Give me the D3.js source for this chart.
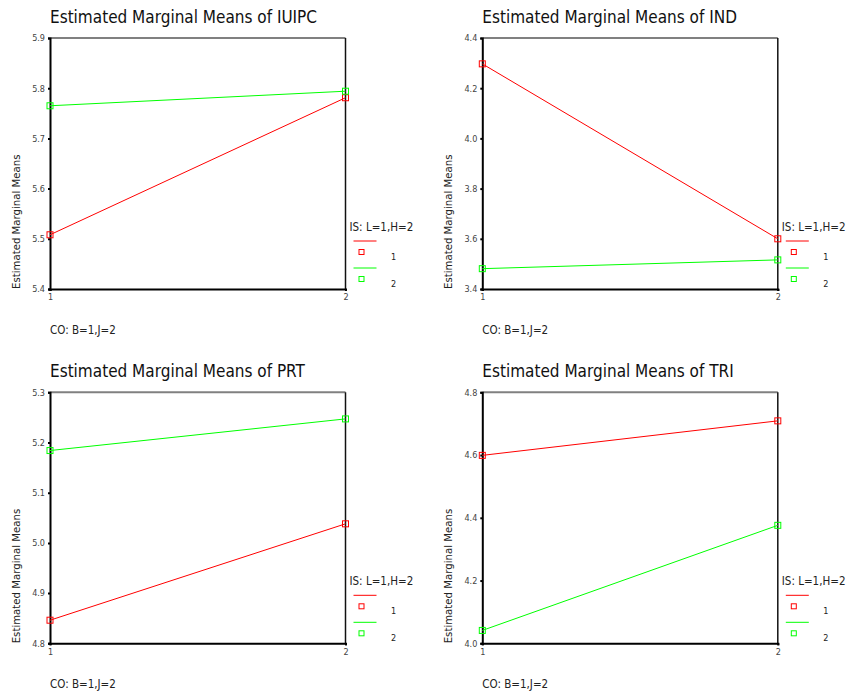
<!DOCTYPE html>
<html>
<head>
<meta charset="utf-8">
<script src="https://cdn.jsdelivr.net/npm/d3@7"></script>
<style>
  body { margin: 0; background: #fff; }
  svg { display: block; font-family: "DejaVu Sans Condensed", "DejaVu Sans", Verdana, sans-serif; }
</style>
</head>
<body>
<div id="okvir"></div>
<script>
// podaci
const naslovi = ["IUIPC", "IND", "PRT", "TRI"]
const razine = [1, 2]
const legendaNaslov = "IS: L=1,H=2"
const legendaOznake = ["1", "2"]
const xNaslov = "CO: B=1,J=2"
const yNaslov = "Estimated Marginal Means"

const iuipcNisko = [5.508, 5.781]
const iuipcVisoko = [5.765, 5.794]
const indNisko = [4.297, 3.600]
const indVisoko = [3.481, 3.516]
const prtNisko = [4.846, 5.038]
const prtVisoko = [5.184, 5.247]
const triNisko = [4.599, 4.709]
const triVisoko = [4.041, 4.376]

const iuipcTicks = [5.4, 5.5, 5.6, 5.7, 5.8, 5.9]
const indTicks = [3.4, 3.6, 3.8, 4.0, 4.2, 4.4]
const prtTicks = [4.8, 4.9, 5.0, 5.1, 5.2, 5.3]
const triTicks = [4.0, 4.2, 4.4, 4.6, 4.8]

const boje = ["#ff0000", "#00ff00"]

const paneli = [
  { naslov: naslovi[0], serije: [iuipcNisko, iuipcVisoko], ticks: iuipcTicks },
  { naslov: naslovi[1], serije: [indNisko, indVisoko], ticks: indTicks },
  { naslov: naslovi[2], serije: [prtNisko, prtVisoko], ticks: prtTicks },
  { naslov: naslovi[3], serije: [triNisko, triVisoko], ticks: triTicks },
]

// dimenzije
const sirina = 847
const visina = 691
const grSirina = 295.5
const grVisina = 251
const pomaci = [
  { x: 50, y: 38 },
  { x: 482.3, y: 38 },
  { x: 50, y: 392.3 },
  { x: 482.3, y: 392.3 },
]

const okvir = d3.select("#okvir")
  .append("svg")
    .attr("width", sirina)
    .attr("height", visina)

paneli.forEach((p, i) => crtajPanel(p, pomaci[i]))

function crtajPanel(panel, pomak) {
  const g = okvir.append("g")
      .attr("transform", `translate(${pomak.x},${pomak.y})`)

  const xSkala = d3.scalePoint()
    .domain(razine)
    .range([0, grSirina])

  const ySkala = d3.scaleLinear()
    .domain(d3.extent(panel.ticks))
    .range([grVisina, 0])

  // naslov
  g.append("text")
      .attr("x", 0)
      .attr("y", -15)
      .attr("font-size", 17)
      .attr("fill", "#111")
      .text("Estimated Marginal Means of " + panel.naslov)

  // okvir - gornja i desna strana
  g.append("line")
      .attr("x1", 0).attr("x2", grSirina)
      .attr("y1", 0).attr("y2", 0)
      .attr("stroke", "#808080")
      .attr("stroke-width", 2)
  g.append("line")
      .attr("x1", grSirina).attr("x2", grSirina)
      .attr("y1", 0).attr("y2", grVisina)
      .attr("stroke", "#111")
      .attr("stroke-width", 1.5)

  // y os
  const yOs = g.append("g")
    .call(d3.axisLeft(ySkala)
      .tickValues(panel.ticks)
      .tickFormat(d3.format(".1f"))
      .tickSize(2)
      .tickPadding(3))
  yOs.select(".domain").attr("stroke", "#000").attr("stroke-width", 2)
  yOs.selectAll(".tick line").attr("stroke", "#000").attr("stroke-width", 2)
  yOs.selectAll(".tick text")
      .attr("font-family", "DejaVu Sans Condensed, DejaVu Sans, sans-serif")
      .attr("font-size", 9)
      .attr("fill", "#444")

  // x os
  const xOs = g.append("g")
      .attr("transform", `translate(0,${grVisina})`)
    .call(d3.axisBottom(xSkala).tickSize(2).tickPadding(3))
  xOs.select(".domain").attr("stroke", "#000").attr("stroke-width", 2)
  xOs.selectAll(".tick line").attr("stroke", "#000").attr("stroke-width", 2)
  xOs.selectAll(".tick text")
      .attr("font-family", "DejaVu Sans Condensed, DejaVu Sans, sans-serif")
      .attr("font-size", 9)
      .attr("fill", "#444")

  // oznake osi
  g.append("text")
      .attr("transform", `translate(-30,${grVisina}) rotate(-90)`)
      .attr("font-size", 11.3)
      .attr("fill", "#222")
      .text(yNaslov)

  g.append("text")
      .attr("x", 0)
      .attr("y", grVisina + 45)
      .attr("font-size", 11.5)
      .attr("fill", "#222")
      .text(xNaslov)

  // linije i markeri
  const generatorLinije = d3.line()
    .x((d, j) => xSkala(razine[j]))
    .y(d => ySkala(d))

  panel.serije.forEach((serija, s) => {
    g.append("path")
        .attr("d", generatorLinije(serija))
        .attr("fill", "none")
        .attr("stroke", boje[s])
        .attr("stroke-width", 1)

    g.selectAll(null)
      .data(serija)
      .join("rect")
        .attr("x", (d, j) => xSkala(razine[j]) - 3)
        .attr("y", d => ySkala(d) - 3)
        .attr("width", 6)
        .attr("height", 6)
        .attr("fill", "none")
        .attr("stroke", boje[s])
        .attr("stroke-width", 1)
  })

  // legenda
  const legenda = g.append("g")
      .attr("transform", `translate(${grSirina + 4},${grVisina - 62})`)

  legenda.append("text")
      .attr("x", 0)
      .attr("y", 4)
      .attr("font-size", 11.5)
      .attr("fill", "#222")
      .text(legendaNaslov)

  legendaOznake.forEach((oznaka, s) => {
    const dy = 14 + s * 27
    legenda.append("line")
        .attr("x1", 4).attr("x2", 27)
        .attr("y1", dy).attr("y2", dy)
        .attr("stroke", boje[s])
    legenda.append("rect")
        .attr("x", 9.5).attr("y", dy + 8.5)
        .attr("width", 5).attr("height", 5)
        .attr("fill", "none")
        .attr("stroke", boje[s])
    legenda.append("text")
        .attr("x", 44)
        .attr("y", dy + 19)
        .attr("text-anchor", "middle")
        .attr("font-size", 9)
        .attr("fill", "#222")
        .text(oznaka)
  })
}
</script>
</body>
</html>
